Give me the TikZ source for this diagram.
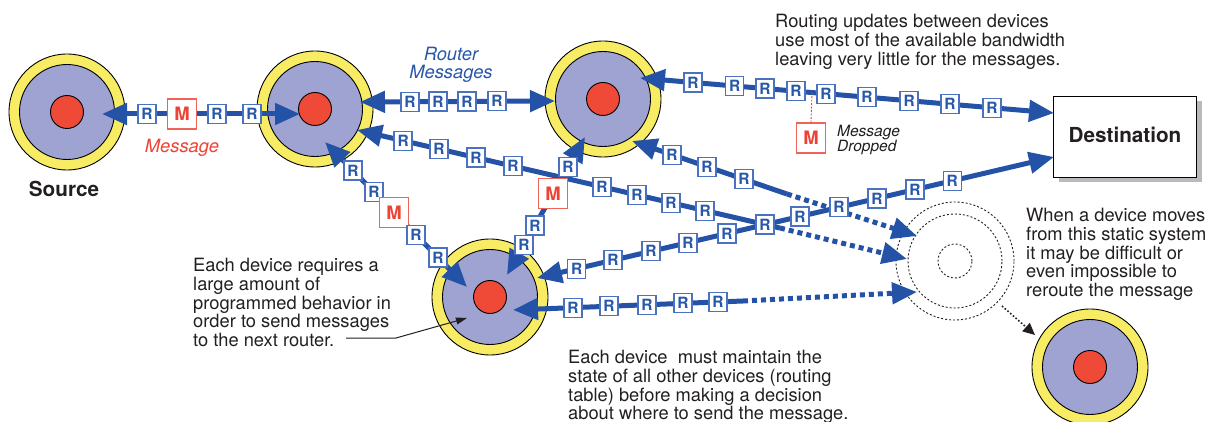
\documentclass[tikz,border=0pt]{standalone}
\usepackage{fontspec}
\setmainfont{TeX Gyre Heros}
\usetikzlibrary{arrows.meta,shadows}

\definecolor{linkblue}{RGB}{36,82,166}
\definecolor{boxblue}{RGB}{74,114,192}
\definecolor{letterblue}{RGB}{40,88,170}
\definecolor{devyellow}{RGB}{247,236,100}
\definecolor{devpurple}{RGB}{158,163,209}
\definecolor{devred}{RGB}{238,74,55}
\definecolor{msgred}{RGB}{238,66,52}
\definecolor{msgborder}{RGB}{240,100,88}
\definecolor{inkgray}{RGB}{35,31,32}
\definecolor{shadowgray}{RGB}{185,186,190}

\tikzset{
  devring/.style={circle,draw=black,line width=0.9pt,fill=devyellow,minimum size=116pt,inner sep=0pt},
  devcore/.style={circle,draw=black,line width=0.9pt,fill=devpurple,minimum size=95pt,inner sep=0pt},
  devhub/.style={circle,draw=black,line width=0.9pt,fill=devred,minimum size=33pt,inner sep=0pt},
  ghostring/.style={circle,draw=inkgray,line width=0.9pt,dash pattern=on 2pt off 2pt,inner sep=0pt},
  bluetip/.tip={Triangle[length=25pt,width=21pt]},
  link/.style={draw=linkblue,line width=5pt,bluetip-bluetip},
  linkstart/.style={draw=linkblue,line width=5pt,bluetip-},
  linkdot/.style={draw=linkblue,line width=5pt,dash pattern=on 5pt off 4pt,-bluetip},
  rbox/.style={draw=boxblue,line width=1.3pt,fill=white,minimum width=18pt,minimum height=19pt,
    inner sep=0pt,text=letterblue,font=\fontsize{15.5}{15.5}\selectfont\bfseries},
  mbox/.style={draw=msgborder,line width=1.2pt,fill=white,minimum width=29pt,minimum height=30pt,
    inner sep=0pt,text=msgred,font=\fontsize{18.5}{18.5}\selectfont\bfseries},
  note/.style={inner sep=0pt,align=left,anchor=north west,text=inkgray,
    font=\fontsize{18.3}{18.8}\selectfont},
  title/.style={inner sep=0pt,text=inkgray,font=\fontsize{20.7}{20.7}\selectfont\bfseries},
  pointer/.style={draw=inkgray,line width=1pt,-{Triangle[length=11pt,width=7pt]}},
  ghostarrow/.style={draw=inkgray,line width=1.6pt,dash pattern=on 1.6pt off 2pt,
    -{Triangle[length=12pt,width=11pt]}},
}

\begin{document}
\begin{tikzpicture}[x=1pt,y=-1pt]
\useasboundingbox (0,0) rectangle (1211,422);

% devices: yellow ring, purple body, red hub
\foreach \n/\p in {src/{(67,112)},d2/{(315,109)},d3/{(603,99)},d4/{(490,297)},d5/{(1090,367)}}{
  \node[devring] (\n) at \p {};
  \node[devcore] (\n core) at \p {};
  \node[devhub] (\n hub) at \p {};
}
\node[title,anchor=base] (srclabel) at (64,197) {Source};

% destination box with its shadow
\node[draw=black,line width=1.2pt,fill=white,minimum width=143pt,minimum height=81pt,
  drop shadow={shadow xshift=5pt,shadow yshift=-5pt,fill=shadowgray,opacity=1}] (dest) at (1125,137) {};
\node[title,anchor=base] (destlabel) at (1125,143) {Destination};

% the place a device has left
\node[ghostring,minimum size=118pt] (ghost) at (955,261) {};
\node[ghostring,minimum size=94pt] (ghostmid) at (955,261) {};
\node[ghostring,minimum size=34pt] (ghostin) at (955,261) {};

% connector end points
\coordinate (a1) at (102,114);  \coordinate (b1) at (300,114);
\coordinate (a2) at (360,102);  \coordinate (b2) at (555,101);
\coordinate (a3) at (640,78);   \coordinate (b3) at (1054,113);
\coordinate (a4) at (632,141);  \coordinate (m4) at (787,194);  \coordinate (g4) at (917,236);
\coordinate (a5) at (357,130);  \coordinate (m5) at (780,228);  \coordinate (g5) at (907,259);
\coordinate (a6) at (325,142);  \coordinate (b6) at (467,287);
\coordinate (a7) at (507,275);  \coordinate (b7) at (585,137);
\coordinate (a8) at (537,278);  \coordinate (b8) at (1054,157);
\coordinate (a9) at (513,310);  \coordinate (m9) at (743,301);  \coordinate (g9) at (917,292);

% source <-> first router
\draw[link] (a1) -- node[rbox,pos=0.227]{R} node[mbox,pos=0.404]{M}
  node[rbox,pos=0.581]{R} node[rbox,pos=0.758]{R} (b1);

% first router <-> upper router
\draw[link] (a2) -- node[rbox,pos=0.256]{R} node[rbox,pos=0.400]{R}
  node[rbox,pos=0.549]{R} node[rbox,pos=0.703]{R} (b2);

% upper router <-> destination
\draw[link] (a3) -- coordinate[pos=0.4155] (dropfrom)
  node[rbox,pos=0.128]{R} node[rbox,pos=0.229]{R} node[rbox,pos=0.302]{R}
  node[rbox,pos=0.377]{R} node[rbox,pos=0.449]{R} node[rbox,pos=0.548]{R}
  node[rbox,pos=0.650]{R} node[rbox,pos=0.749]{R} node[rbox,pos=0.850]{R} (b3);
\node[mbox] (dropped) at (811,138) {M};
\draw[draw=msgred,line width=0.9pt,dash pattern=on 2pt off 1.5pt] (dropfrom) -- (dropped.north);

% upper router <-> vacated place
\draw[linkstart] (a4) -- node[rbox,pos=0.258]{R} node[rbox,pos=0.484]{R}
  node[rbox,pos=0.723]{R} (m4);
\draw[linkdot] (m4) -- (g4);

% first router <-> vacated place
\draw[linkstart] (a5) -- node[rbox,pos=0.109]{R} node[rbox,pos=0.194]{R}
  node[rbox,pos=0.281]{R} node[rbox,pos=0.369]{R} node[rbox,pos=0.579]{R}
  node[rbox,pos=0.662]{R} node[rbox,pos=0.742]{R} node[rbox,pos=0.823]{R} (m5);
\draw[linkdot] (m5) -- (g5);

% first router <-> lower router
\draw[link] (a6) -- node[rbox,pos=0.197]{R} node[rbox,pos=0.345]{R}
  node[mbox,pos=0.486]{M} node[rbox,pos=0.641]{R} node[rbox,pos=0.796]{R} (b6);

% lower router <-> upper router
\draw[link] (a7) -- node[rbox,pos=0.218]{R} node[rbox,pos=0.359]{R}
  node[mbox,pos=0.59]{M} node[rbox,pos=0.782]{R} (b7);

% lower router <-> destination
\draw[link] (a8) -- node[rbox,pos=0.077]{R} node[rbox,pos=0.147]{R}
  node[rbox,pos=0.2205]{R} node[rbox,pos=0.292]{R} node[rbox,pos=0.3675]{R}
  node[rbox,pos=0.441]{R} node[rbox,pos=0.5087]{R} node[rbox,pos=0.584]{R}
  node[rbox,pos=0.6576]{R} node[rbox,pos=0.731]{R} node[rbox,pos=0.803]{R} (b8);

% lower router <-> vacated place
\draw[linkstart] (a9) -- node[rbox,pos=0.261]{R} node[rbox,pos=0.417]{R}
  node[rbox,pos=0.583]{R} node[rbox,pos=0.739]{R} node[rbox,pos=0.891]{R} (m9);
\draw[linkdot] (m9) -- (g9);

% the device that moved away
\coordinate (gfrom) at (1002,306);
\coordinate (gto) at (1035,335);
\draw[ghostarrow] (gfrom) -- (gto);

% labels
\node[text=msgred,font=\fontsize{18.3}{18.3}\selectfont\itshape] (msglabel) at (182,148) {Message};
\node[align=center,text=letterblue,font=\fontsize{18.3}{18}\selectfont\itshape,inner sep=0pt]
  (routerlabel) at (451,65) {Router\\Messages};
\node[note,font=\fontsize{15.5}{15.5}\selectfont\itshape] (droplabel) at (837,125) {Message\\Dropped};

\node[note] (bandwidth) at (775,14) {Routing updates between devices\\use most of the available bandwidth\\leaving very little for the messages.};
\node[note] (moves) at (1026,208) {When a device moves\\from this static system\\it may be difficult or\\even impossible to\\reroute the message};
\node[note] (behavior) at (193,258) {Each device requires a\\large amount of\\programmed behavior in\\order to send messages\\to the next router.};
\node[note] (state) at (568,350) {Each device\ \ must maintain the\\state of all other devices (routing\\table) before making a decision\\about where to send the message.};

% pointer from the note into the lower router
\coordinate (p0) at (346,338);
\coordinate (p1) at (396,338);
\coordinate (p2) at (467,318);
\draw[pointer] (p0) -- (p1) -- (p2);
\end{tikzpicture}
\end{document}
